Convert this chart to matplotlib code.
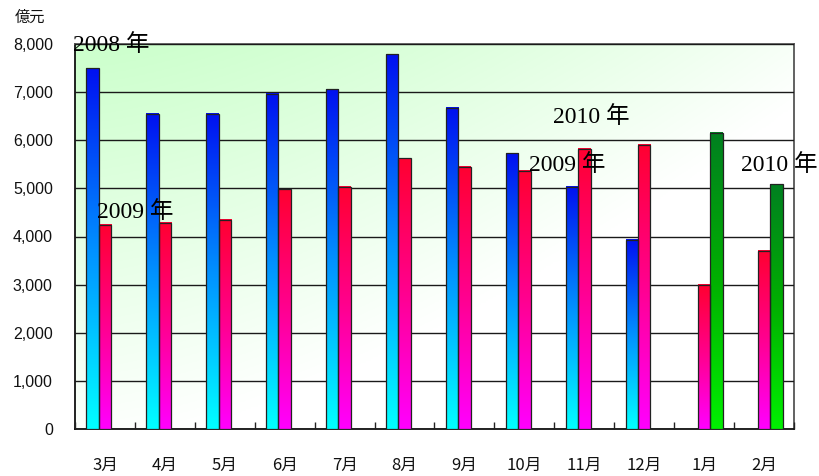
import numpy as np
import matplotlib
matplotlib.use('Agg')
import matplotlib.pyplot as plt
from matplotlib.colors import LinearSegmentedColormap
from matplotlib.ticker import FuncFormatter, FixedLocator

months = ['3月', '4月', '5月', '6月', '7月', '8月', '9月', '10月', '11月', '12月', '1月', '2月']
nan = np.nan
y2008 = [7500, 6550, 6550, 6965, 7060, 7785, 6680, 5732, 5035, 3930, nan, nan]
y2009 = [4240, 4290, 4345, 4985, 5030, 5630, 5447, 5364, 5821, 5910, 2994, 3700]
y2010 = [nan, nan, nan, nan, nan, nan, nan, nan, nan, nan, 6160, 5087]
yticks = [0, 1000, 2000, 3000, 4000, 5000, 6000, 7000, 8000]
year_labels = ['2008 年', '2009 年', '2010 年', '2009 年', '2010 年']

CJK = ['Noto Sans CJK JP', 'DejaVu Sans']
SERIF = ['Liberation Serif', 'Noto Sans CJK JP']

fig = plt.figure(figsize=(8.2, 4.76), dpi=100)
fig.patch.set_facecolor('white')
L, R, T, B = 75, 794, 44, 429
ax = fig.add_axes([L / 820, 1 - B / 476, (R - L) / 820, (B - T) / 476])

x = np.arange(len(months))
w = 0.208
n = len(months)

# background gradient (light green top-left -> white bottom-right)
gx, gy = np.meshgrid(np.linspace(0, 1, 300), np.linspace(0, 1, 200))
t = np.clip(gx ** 1.5 * 0.85 + gy * 0.95, 0, 1)
c0 = np.array([0.80, 1.0, 0.80])
c1 = np.array([1.0, 1.0, 1.0])
bg = c0[None, None, :] * (1 - t[..., None]) + c1[None, None, :] * t[..., None]
ax.imshow(bg, extent=[-0.5, n - 0.5, 0, 8000], aspect='auto',
          origin='upper', zorder=0)

ax.yaxis.set_major_locator(FixedLocator(yticks))
ax.grid(axis='y', color='#1a1a1a', linewidth=1.0, zorder=1)
ax.set_axisbelow(False)

cmaps = [
    LinearSegmentedColormap.from_list('b', ['#00ffff', '#0090ff', '#0010f0']),
    LinearSegmentedColormap.from_list('r', ['#ff00ff', '#ff0090', '#ff0030']),
    LinearSegmentedColormap.from_list('g', ['#00f000', '#00b000', '#008020']),
]
grad = np.linspace(1, 0, 256).reshape(-1, 1)
for vals, off, cm in zip([y2008, y2009, y2010], [-w, 0, w], cmaps):
    bars = ax.bar(x + off, vals, width=w, facecolor='none',
                  edgecolor='#222222', linewidth=0.9, zorder=4)
    for b in bars:
        h = b.get_height()
        if not np.isfinite(h) or h <= 0:
            continue
        x0 = b.get_x()
        ax.imshow(grad, extent=[x0, x0 + w, 0, h], aspect='auto',
                  cmap=cm, vmin=0, vmax=1, zorder=3)

ax.set_xlim(-0.5, n - 0.5)
ax.set_ylim(0, 8000)

ax.set_xticks(x)
ax.set_xticklabels(months, fontfamily=CJK, fontsize=12, color='#111111')
ax.set_xticks(np.arange(-0.5, n, 1.0), minor=True)
ax.tick_params(axis='x', which='major', length=0, pad=20)
ax.tick_params(axis='x', which='minor', direction='in', length=5, width=1, color='#222222')
ax.yaxis.set_major_formatter(FuncFormatter(lambda v, p: f'{int(v):,}'))
ax.tick_params(axis='y', length=0, pad=16)
for lab in ax.get_yticklabels():
    lab.set_fontfamily(['Liberation Sans', 'DejaVu Sans'])
    lab.set_fontsize(11.5)
    lab.set_color('#111111')

for s in ['left', 'bottom']:
    ax.spines[s].set_color('#111111')
    ax.spines[s].set_linewidth(1.3)
for s in ['top', 'right']:
    ax.spines[s].set_color('#555555')
    ax.spines[s].set_linewidth(1.3)

fig.text(15 / 820, 1 - 17 / 476, '億元', fontfamily=CJK, fontsize=11,
         ha='left', va='center', color='#111111')

label_pos = [(73, 45), (97, 212), (553, 117), (529, 165), (741, 165)]
for txt, (px, py) in zip(year_labels, label_pos):
    fig.text(px / 820, 1 - py / 476, txt, fontfamily=SERIF, fontsize=17,
             ha='left', va='center', color='black', zorder=10)

fig.savefig('out.png', dpi=100)
